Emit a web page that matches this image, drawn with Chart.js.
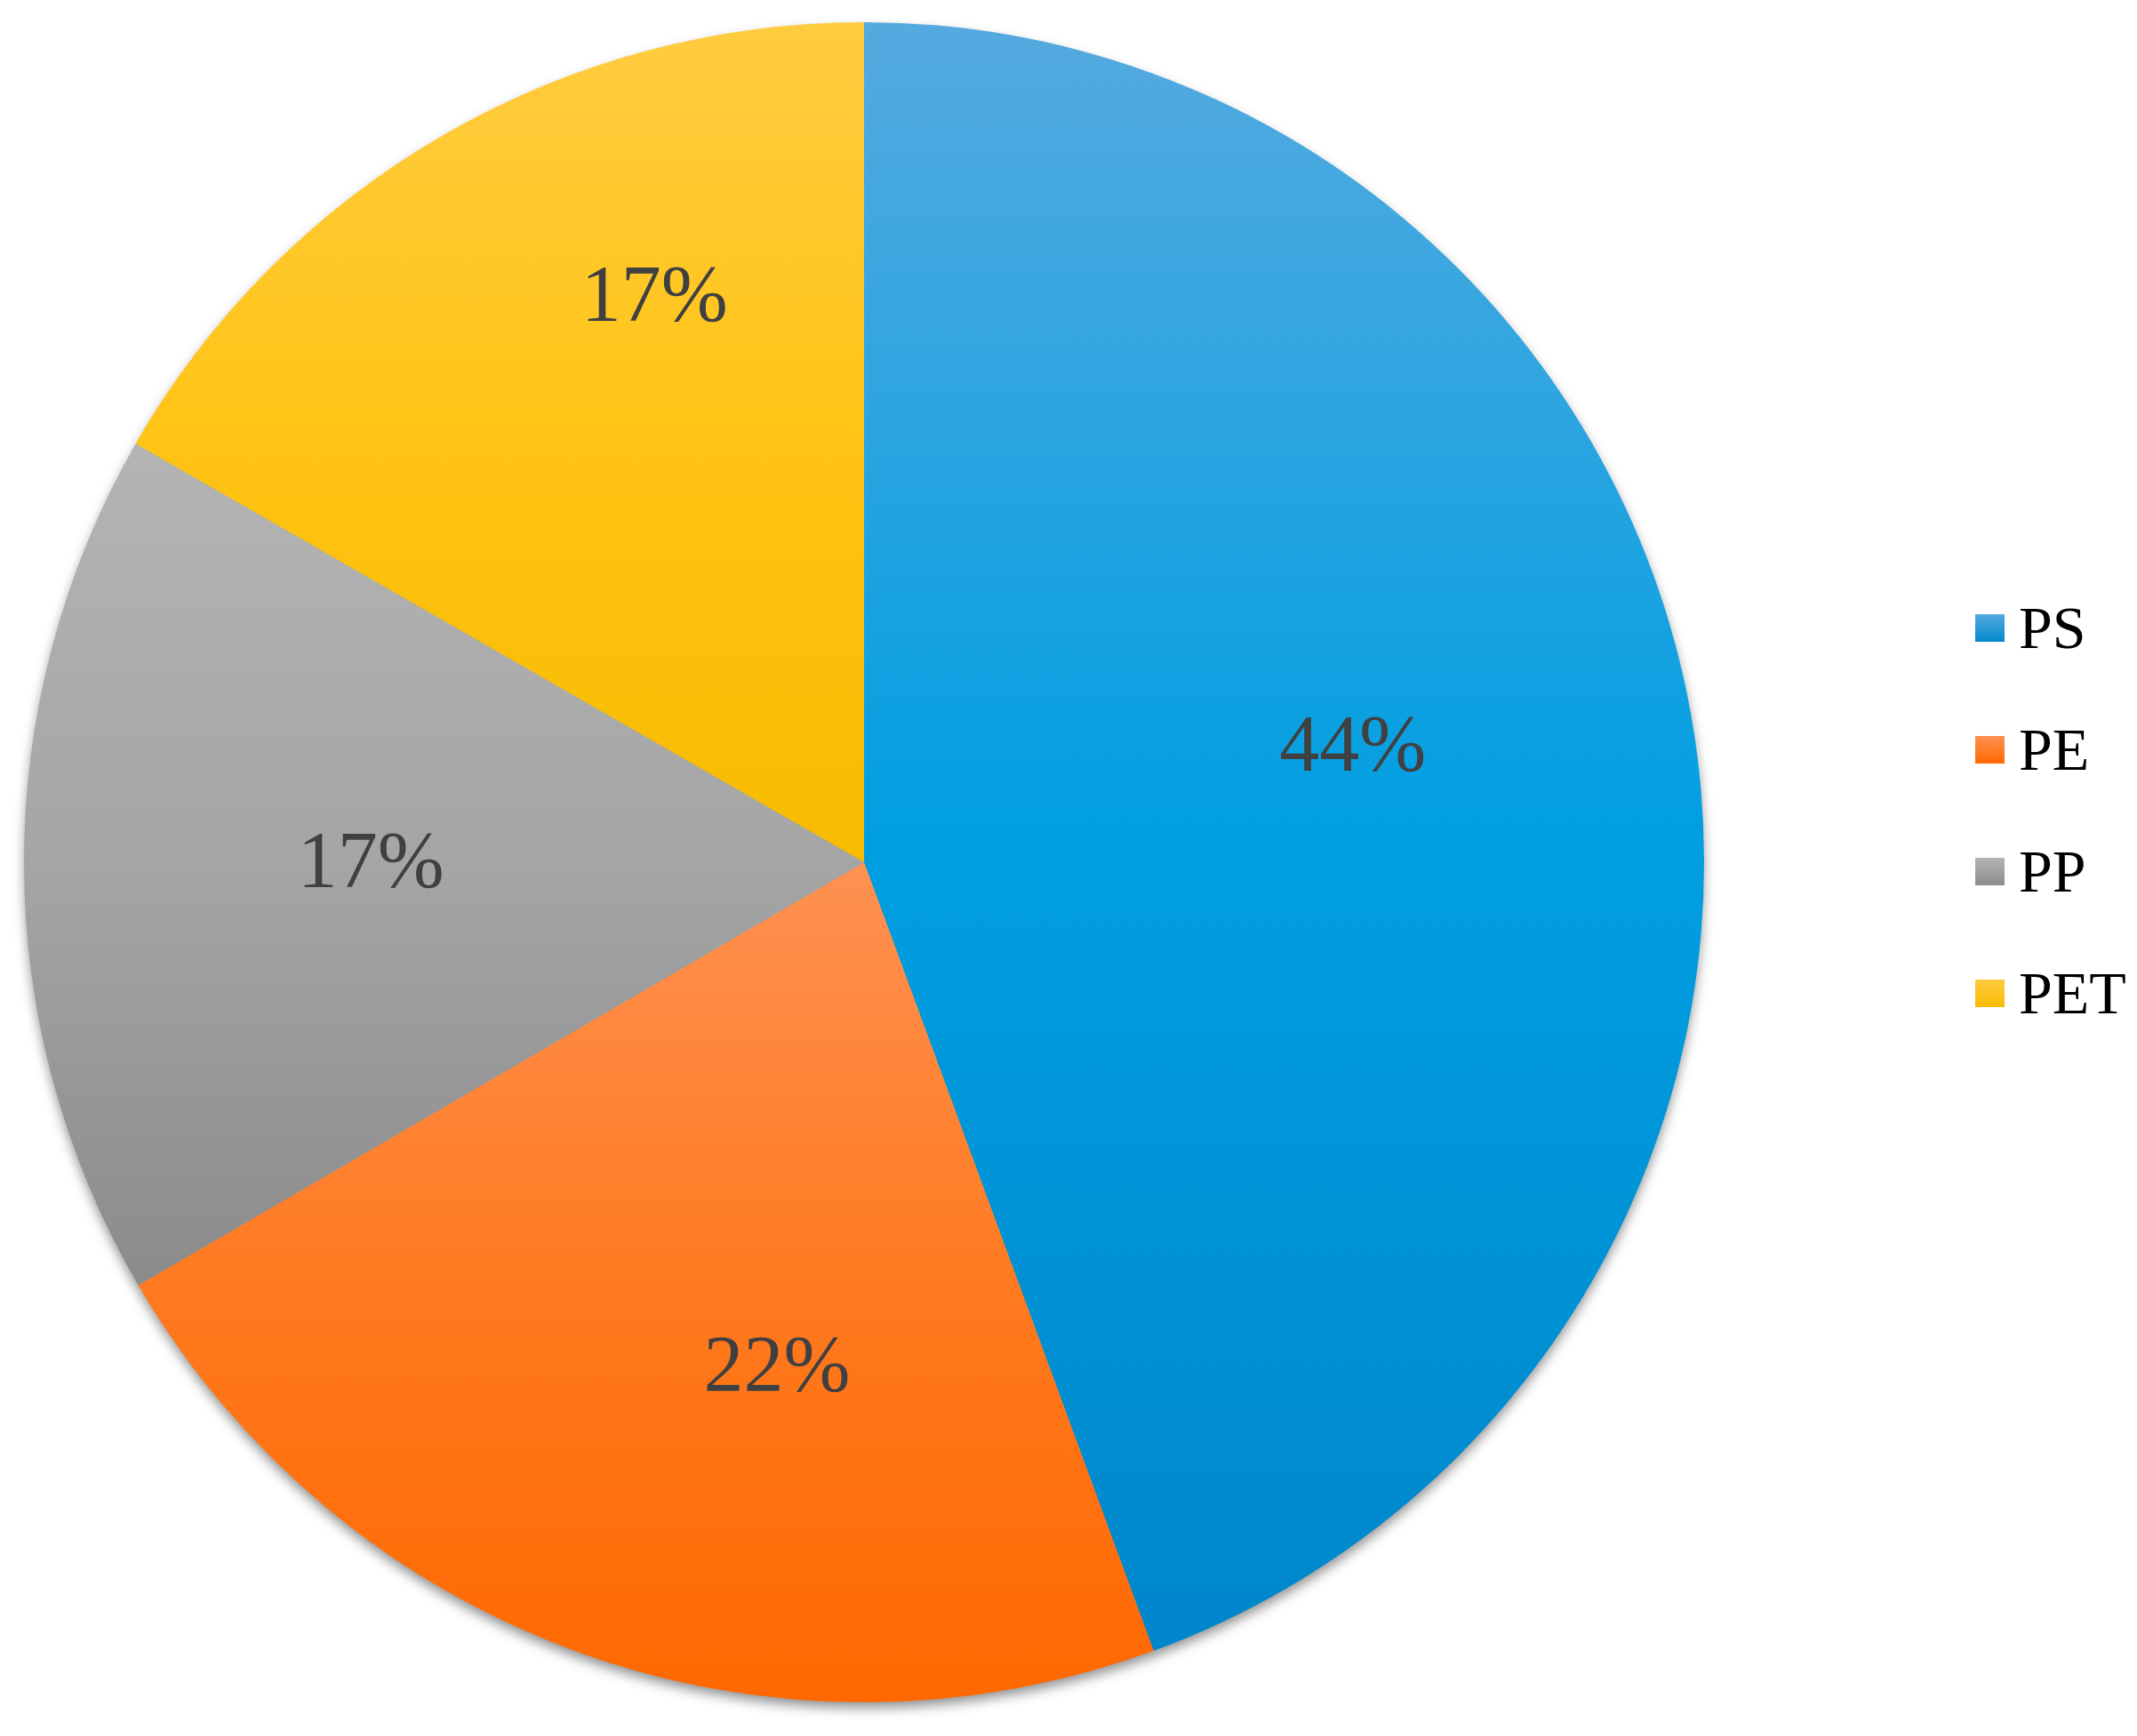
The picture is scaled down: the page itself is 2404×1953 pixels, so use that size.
<!DOCTYPE html>
<html>
<head>
<meta charset="utf-8">
<script src="https://cdn.jsdelivr.net/npm/chart.js@4.4.1/dist/chart.umd.min.js"></script>
<style>
  html, body { margin: 0; padding: 0; background: #fff; }
  #wrap { width: 2404px; height: 1953px; position: relative; }
</style>
</head>
<body>
<div id="wrap"><canvas id="myChart"></canvas></div>
<script>
// données du camembert (parts)
const categories = ['PS', 'PE', 'PP', 'PET'];
const shares = [44.4, 22.2, 16.7, 16.7];

// couleurs en dégradé : clair / moyen / foncé
const lightColors = ['#55aadf', '#ff9152', '#b4b4b4', '#ffcc40'];
const midColors   = ['#009fe2', '#ff7a20', '#a5a5a5', '#ffc414'];
const darkColors  = ['#0086ca', '#ff6800', '#8b8b8b', '#f7bb00'];

// placement des étiquettes : fraction de l'arc, fraction du rayon
const labelPlace = [[0.482, 0.597], [0.374, 0.613], [0.495, 0.587], [0.66, 0.714]];

const SERIF = '"Liberation Serif", "Times New Roman", Tinos, serif';

function sliceGradient(context) {
    const chart = context.chart;
    const area = chart.chartArea;
    const i = context.dataIndex;
    if (!area) return midColors[i];
    const cx = (area.left + area.right) / 2;
    const cy = (area.top + area.bottom) / 2;
    const r = Math.min(area.right - area.left, area.bottom - area.top) / 2;
    const total = shares.reduce((a, b) => a + b, 0);
    let start = 0;
    for (let j = 0; j < i; j++) start += shares[j];
    const a0 = -Math.PI / 2 + start / total * Math.PI * 2;
    const a1 = a0 + shares[i] / total * Math.PI * 2;
    let top = cy, bot = cy;
    for (let k = 0; k <= 60; k++) {
        const y = cy + Math.sin(a0 + (a1 - a0) * k / 60) * r;
        top = Math.min(top, y);
        bot = Math.max(bot, y);
    }
    const g = chart.ctx.createLinearGradient(0, top, 0, bot);
    g.addColorStop(0, lightColors[i]);
    g.addColorStop(0.5, midColors[i]);
    g.addColorStop(1, darkColors[i]);
    return g;
}

// ombre sous le disque
const pieShadow = {
    id: 'pieShadow',
    beforeDatasetsDraw(chart) {
        const arc = chart.getDatasetMeta(0).data[0];
        if (!arc) return;
        const ctx = chart.ctx;
        ctx.save();
        ctx.shadowColor = 'rgba(0,0,0,0.45)';
        ctx.shadowBlur = 14;
        ctx.shadowOffsetY = 7;
        ctx.fillStyle = '#999';
        ctx.beginPath();
        ctx.arc(arc.x, arc.y, arc.outerRadius - 1, 0, Math.PI * 2);
        ctx.fill();
        ctx.restore();
    }
};

// pourcentages dans les parts
const sliceLabels = {
    id: 'sliceLabels',
    afterDatasetsDraw(chart) {
        const ctx = chart.ctx;
        const total = shares.reduce((a, b) => a + b, 0);
        ctx.save();
        ctx.font = '90px ' + SERIF;
        ctx.fillStyle = '#404040';
        ctx.textAlign = 'center';
        ctx.textBaseline = 'middle';
        chart.getDatasetMeta(0).data.forEach((arc, i) => {
            const p = labelPlace[i];
            const a = arc.startAngle + (arc.endAngle - arc.startAngle) * p[0];
            const x = arc.x + Math.cos(a) * arc.outerRadius * p[1];
            const y = arc.y + Math.sin(a) * arc.outerRadius * p[1];
            ctx.fillText(Math.round(shares[i] / total * 100) + '%', x, y);
        });
        ctx.restore();
    }
};

// légende à droite
const sideLegend = {
    id: 'sideLegend',
    afterDraw(chart) {
        const ctx = chart.ctx;
        ctx.save();
        ctx.font = '68px ' + SERIF;
        ctx.textBaseline = 'alphabetic';
        ctx.textAlign = 'left';
        categories.forEach((name, i) => {
            const cy = 707 + i * 137;
            const g = ctx.createLinearGradient(0, cy - 16, 0, cy + 16);
            g.addColorStop(0, lightColors[i]);
            g.addColorStop(1, darkColors[i]);
            ctx.fillStyle = g;
            ctx.fillRect(2222, cy - 16, 33, 31);
            ctx.fillStyle = '#000';
            ctx.fillText(name, 2271, cy + 22);
        });
        ctx.restore();
    }
};

let myChart = null;

function drawChart() {
    const ctx = document.getElementById('myChart').getContext('2d');
    if (myChart) myChart.destroy();
    myChart = new Chart(ctx, {
        type: 'pie',
        data: {
            labels: categories,
            datasets: [{
                data: shares,
                backgroundColor: sliceGradient,
                borderWidth: 0
            }]
        },
        options: {
            responsive: true,
            maintainAspectRatio: false,
            animation: false,
            layout: { padding: { left: 0, right: 460, top: 25, bottom: 38 } },
            plugins: {
                legend: { display: false },
                tooltip: { enabled: false }
            }
        },
        plugins: [pieShadow, sliceLabels, sideLegend]
    });
}

// attendre la police serif avant de dessiner
Promise.all([
    document.fonts.load('90px "Liberation Serif"'),
    document.fonts.load('68px "Liberation Serif"')
]).catch(() => {}).then(drawChart);
</script>
</body>
</html>
